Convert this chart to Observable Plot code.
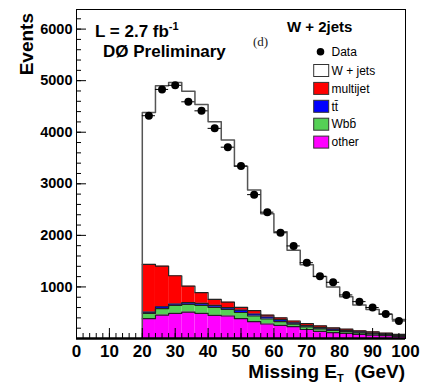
<!DOCTYPE html>
<html><head><meta charset="utf-8">
<script src="https://cdn.jsdelivr.net/npm/d3@7"></script>
<script src="https://cdn.jsdelivr.net/npm/@observablehq/plot@0.6"></script>
<style>
body{margin:0;background:#fff;}
#chart{width:424px;height:384px;}
</style></head><body><div id="chart"></div>
<script>
// Bin edges (GeV)
const binEdges = [20,24,28,32,36,40,44,48,52,56,60,64,68,72,76,80,84,88,92,96,100];
// Data (events per bin)
const dataValues = [4320,4830,4910,4590,4415,4075,3710,3345,2790,2450,2050,1795,1470,1205,1090,845,715,600,475,340];
// MC components (stacked bottom -> top)
const otherValues    = [384,455,488,513,488,449,436,384,326,281,256,229,175,140,115,100,80,65,55,40];
const wbbValues      = [104,123,155,150,155,156,130,120,110,97,70,50,50,45,40,35,30,25,20,15];
const ttbarValues    = [25,38,26,31,39,38,31,45,39,39,40,25,25,25,25,20,20,15,15,10];
const multijetValues = [925,789,548,323,206,116,110,56,64,38,35,35,40,35,25,25,20,25,15,15];
const wjetsValues    = [2946,3494,3748,3780,3651,3443,3140,2735,2339,1965,1669,1373,1138,955,795,630,500,430,365,290];

const compNames  = ["other","Wbb","ttbar","multijet","wjets"];
const compColors = ["#ff00ff","#55d055","#0000ff","#ff0000","#ffffff"];
const legendLabels = ["W + jets","multijet","tt\u0304","Wbb\u0304","other"];
const legendColors = ["#ffffff","#ff0000","#0000ff","#55d055","#ff00ff"];
const xTicksMajor = [0,10,20,30,40,50,60,70,80,90,100];
const yTicksMajor = [1000,2000,3000,4000,5000,6000];

const series = {other: otherValues, Wbb: wbbValues, ttbar: ttbarValues, multijet: multijetValues, wjets: wjetsValues};
const n = dataValues.length;

const rows = [];
compNames.forEach(c => series[c].forEach((v, i) => rows.push({comp: c, lo: binEdges[i], hi: binEdges[i+1], value: v})));

// cumulative step outlines
const outlines = [];
let cum = new Array(n).fill(0);
compNames.forEach(c => {
  cum = cum.map((s, i) => s + series[c][i]);
  if (c === "wjets") outlines.push({comp: c, x: binEdges[0], y: 0});
  cum.forEach((s, i) => outlines.push({comp: c, x: binEdges[i], y: s}));
  outlines.push({comp: c, x: binEdges[n], y: cum[n-1]});
});

const dataRows = dataValues.map((v, i) => ({lo: binEdges[i], hi: binEdges[i+1], mid: (binEdges[i] + binEdges[i+1]) / 2, value: v}));

const yMinor = d3.range(0, 6400, 200);
const xMinor = d3.range(0, 101, 2);

const plot = Plot.plot({
  width: 424, height: 384,
  marginLeft: 76, marginRight: 19, marginTop: 9, marginBottom: 46,
  style: {fontFamily: "'Liberation Sans', Arial, sans-serif", background: "white", overflow: "visible"},
  x: {domain: [0, 100]},
  y: {domain: [0, 6380]},
  color: {domain: compNames, range: compColors},
  marks: [
    Plot.rectY(rows, {x1: "lo", x2: "hi", y: "value", fill: "comp", order: compNames}),
    Plot.line(outlines.filter(d => d.comp !== "wjets"), {x: "x", y: "y", z: "comp", curve: "step-after", stroke: "#222", strokeWidth: 1.2}),
    Plot.line(outlines.filter(d => d.comp === "wjets"), {x: "x", y: "y", curve: "step-after", stroke: "#555", strokeWidth: 1.5}),
    Plot.ruleY(dataRows, {y: "value", x1: "lo", x2: "hi", stroke: "black", strokeWidth: 1}),
    Plot.dot(dataRows, {x: "mid", y: "value", r: 4, fill: "black"}),
    Plot.frame({stroke: "black", strokeWidth: 1}),
    Plot.ruleY([0], {stroke: "black", strokeWidth: 2.5}),
    Plot.axisY({ticks: yMinor, tickSize: -5, tickFormat: () => "", label: null}),
    Plot.axisY({ticks: yTicksMajor, tickSize: -10, tickFormat: () => "", label: null}),
    Plot.axisY({ticks: yTicksMajor, tickSize: 0, tickPadding: 4, tickFormat: d => String(d), label: null, fontSize: 14.5, fontWeight: "bold"}),
    Plot.axisX({ticks: xMinor, tickSize: -5, tickFormat: () => "", label: null}),
    Plot.axisX({ticks: xTicksMajor, tickSize: -10, tickFormat: () => "", label: null}),
    Plot.axisX({ticks: xTicksMajor, tickSize: 0, tickPadding: 6, tickFormat: d => String(d), label: null, fontSize: 17, fontWeight: "bold"})
  ]
});

const svg = d3.select(plot);
const font = "'Liberation Sans', Arial, sans-serif";
// Axis titles
svg.append("text").attr("transform", "translate(33,13) rotate(-90)").attr("text-anchor", "end")
  .attr("font-family", font).attr("font-size", 19).attr("font-weight", "bold").text("Events");
const xt = svg.append("text").attr("x", 405).attr("y", 378).attr("text-anchor", "end")
  .attr("font-family", font).attr("font-size", 19).attr("font-weight", "bold");
xt.append("tspan").text("Missing E");
xt.append("tspan").attr("font-size", 11).attr("dy", 4).text("T");
xt.append("tspan").attr("dy", -4).text("\u00a0 (GeV)");
// Annotations
const lt = svg.append("text").attr("x", 95).attr("y", 36.5).attr("text-anchor", "start").attr("font-family", font).attr("font-size", 17).attr("font-weight", "bold");
lt.append("tspan").text("L = 2.7 fb");
lt.append("tspan").attr("font-size", 11).attr("dy", -7).text("-1");
svg.append("text").attr("x", 103).attr("y", 56.5).attr("text-anchor", "start").attr("font-family", font).attr("font-size", 17).attr("font-weight", "bold").text("D\u00d8 Preliminary");
svg.append("text").attr("x", 287).attr("y", 31.5).attr("text-anchor", "start").attr("font-family", font).attr("font-size", 15).attr("font-weight", "bold").text("W + 2jets");
svg.append("text").attr("x", 253).attr("y", 45.5).attr("text-anchor", "start").attr("fill", "#222").attr("font-family", "'Liberation Serif', 'DejaVu Serif', serif").attr("font-size", 13).text("(d)");
// Legend
svg.append("circle").attr("cx", 320.5).attr("cy", 51.7).attr("r", 3.8).attr("fill", "black");
svg.append("text").attr("x", 331.5).attr("y", 51.7).attr("dy", "0.35em").attr("text-anchor", "start").attr("font-family", font).attr("font-size", 12).text("Data");
legendLabels.forEach((lab, i) => {
  const y0 = 64.5 + i * 17.9;
  svg.append("rect").attr("x", 313.7).attr("y", y0).attr("width", 15).attr("height", 12)
    .attr("fill", legendColors[i]).attr("stroke", "#333").attr("stroke-width", 1);
  svg.append("text").attr("x", 331.5).attr("y", y0 + 6).attr("dy", "0.35em").attr("text-anchor", "start")
    .attr("font-family", font).attr("font-size", 12).text(lab);
});

document.getElementById("chart").appendChild(plot);
</script>
</body></html>
